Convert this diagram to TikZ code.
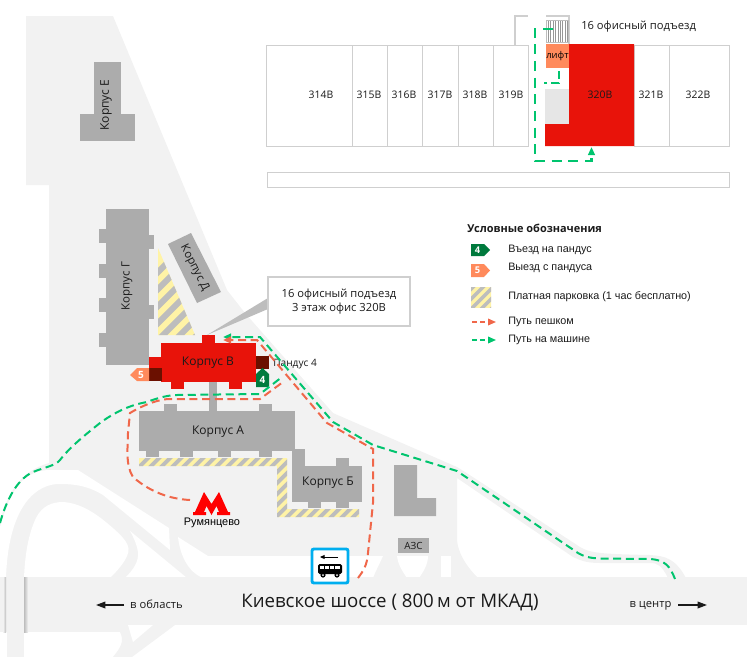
\documentclass[tikz,border=0pt]{standalone}
\usepackage{fontspec}
\setmainfont{Open Sans}
\newfontfamily\arialf{Liberation Sans}
\usetikzlibrary{arrows.meta}
\definecolor{ground}{HTML}{F2F2F2}
\definecolor{bldg}{HTML}{ACACAC}
\definecolor{redb}{HTML}{E8130A}
\definecolor{darkred}{HTML}{6B1000}
\definecolor{rampin}{HTML}{007A3D}
\definecolor{rampout}{HTML}{FF8A5C}
\definecolor{hatchy}{HTML}{FFF3A6}
\definecolor{hatchg}{HTML}{BDBDBD}
\definecolor{cellline}{HTML}{CFCFCF}
\definecolor{carc}{HTML}{00C46E}
\definecolor{walkc}{HTML}{F0674A}
\definecolor{busc}{HTML}{00AEEF}
\definecolor{txt}{HTML}{1A1A1A}
\tikzset{
 groundf/.style={fill=ground,draw=none},
 whitef/.style={fill=white,draw=none},
 bld/.style={fill=bldg,draw=none},
 redf/.style={fill=redb,draw=none},
 darkf/.style={fill=darkred,draw=none},
 lbl/.style={text=txt,font=\fontsize{9pt}{10pt}\selectfont,inner sep=0pt},
 small/.style={text=txt,font=\fontsize{7.8pt}{9pt}\selectfont,inner sep=0pt},
 leg/.style={text=txt,font=\arialf\fontsize{8.1pt}{10pt}\selectfont,inner sep=0pt,anchor=west},
 cell/.style={draw=cellline,line width=0.75pt,fill=white},
 car/.style={draw=carc,line width=1.5pt,dash pattern=on 6pt off 3.5pt},
 carthick/.style={draw=carc,line width=2pt,dash pattern=on 7.5pt off 5pt},
 walk/.style={draw=walkc,line width=1.5pt,dash pattern=on 6pt off 3.5pt},
 headc/.style={-{Triangle[length=6pt,width=5pt]}},
 dirarrow/.style={draw=txt,line width=1pt,-{Triangle[length=7pt,width=5pt]}},
 hatchline/.style={draw=hatchg},
}
\newcommand\hatchrun[4]{\foreach \hk in {0,...,#3}{\draw[hatchline,line width=#4*0.265pt] ({#1+\hk*#4-120},{#2+120}) -- ({#1+\hk*#4+120},{#2-120});}}
\begin{document}
\begin{tikzpicture}[x=0.75pt,y=-0.75pt]
\useasboundingbox (0,0) rectangle (747,657);
% ground
\fill[groundf] (26,16) -- (113,16) -- (227,290) -- (245,313) -- (333,413) -- (457,467)
  .. controls (462,470) and (470,475) .. (580,547)
  .. controls (590,553) and (600,554) .. (650,555)
  .. controls (665,556) and (675,558) .. (686,578)
  -- (668,578) .. controls (662,566) and (658,563) .. (650,563)
  -- (600,563) .. controls (585,563) and (580,560) .. (573,557)
  -- (457,478) -- (457,540) .. controls (458,552) and (465,565) .. (478,578)
  -- (0,578) -- (0,520) .. controls (8,495) and (18,472) .. (49,463) -- (49,185) -- (26,185) -- cycle;
% white cut-outs above the road
\fill[whitef] (0,527) .. controls (8,500) and (18,470) .. (50,470) -- (78,470) -- (169,528) -- (170,550)
  -- (103,495) .. controls (85,484) and (70,484) .. (57,484)
  .. controls (30,486) and (8,515) .. (6,578) -- (0,578) -- cycle;
\fill[whitef] (24,578) .. controls (25,555) and (28,535) .. (36,518)
  .. controls (42,506) and (52,502) .. (63,502) .. controls (80,503) and (95,513) .. (107,523)
  .. controls (125,538) and (132,546) .. (127,556) .. controls (124,563) and (118,570) .. (110,578) -- cycle;
\fill[whitef] (130,531) -- (187,578) -- (125,578) .. controls (133,570) and (139,562) .. (138,552) .. controls (137,545) and (134,538) .. (130,531) -- cycle;
\fill[whitef] (178,537) -- (208,556) -- (383,556) .. controls (380,563) and (376,570) .. (373,578)
  -- (203,578) .. controls (188,572) and (180,555) .. (178,537) -- cycle;
\fill[whitef] (397,556) -- (428,556) .. controls (428,565) and (423,572) .. (419,578) -- (407,578) .. controls (403,572) and (398,565) .. (397,556) -- cycle;
\fill[whitef] (441,556) -- (451,556) -- (451,578) -- (441,578) -- cycle;
% road
\fill[groundf] (0,577) rectangle (747,625);
\fill[groundf] (0,625) rectangle (120,632);
\fill[groundf] (120,625) -- (175,625) -- (132,657) -- (113,657) .. controls (120,648) and (125,642) .. (120,632) -- cycle;
\fill[whitef] (128,625) -- (153,625) -- (133,642) -- cycle;
\shade[left color=ground,right color=bldg!80] (3,577) rectangle (6,632);
\shade[left color=bldg!80,right color=ground] (24,577) rectangle (28,632);
\fill[groundf] (7,577) rectangle (24,657);
% buildings
\fill[bld] (94,62) rectangle (121,114);
\fill[bld] (80,114) rectangle (135,141);
\node[lbl,rotate=90] (korpE) at (106,105) {Корпус Е};
\fill[bld] (106,209) rectangle (149,365);
\foreach \yy in {229,264,298,333}{\fill[bld] (99,\yy) rectangle (106,\yy+14);}
\foreach \yy in {235,305}{\fill[bld] (149,\yy) rectangle (154,\yy+14);}
\node[lbl,rotate=90,font=\fontsize{8.6pt}{10pt}\selectfont] (korpG) at (127,286) {Корпус Г};
\fill[bld] (168,244) -- (191,233) -- (221,292) -- (197,303) -- cycle;
\node[lbl,rotate=-63,font=\fontsize{8.6pt}{10pt}\selectfont] (korpD) at (194.5,268) {Корпус Д};
% parking triangle
\begin{scope}
\clip (158,248) -- (195,335) -- (158,335) -- cycle;
\fill[hatchy] (150,240) rectangle (200,340);
\hatchrun{130}{300}{6}{17}
\end{scope}
% corpus A
\fill[bld] (209,380) rectangle (217,411);
\fill[bld] (139,411) rectangle (295,451);
\fill[bld] (164,404) rectangle (177,411);
\fill[bld] (259,404) rectangle (272,411);
\foreach \xx in {146,180,218,259}{\fill[bld] (\xx,451) rectangle (\xx+13,457);}
\node[lbl] (korpA) at (218,432) {Корпус А};
% parking A/B
\begin{scope}
\clip (139,458) -- (287,458) -- (287,509) -- (359,509) -- (359,517) -- (277,517) -- (277,466) -- (139,466) -- cycle;
\fill[hatchy] (130,450) rectangle (365,520);
\hatchrun{140}{466}{26}{11}
\end{scope}
% corpus B
\fill[bld] (292,449) rectangle (305,466);
\fill[bld] (292,466) rectangle (362,502);
\fill[bld] (336,458) rectangle (349,466);
\fill[bld] (308,502) rectangle (321,508);
\fill[bld] (336,502) rectangle (349,508);
\node[lbl] (korpB) at (328,483) {Корпус Б};
% L building, AZS
\fill[bld] (394,465) -- (417,465) -- (417,498) -- (436,498) -- (436,516) -- (394,516) -- cycle;
\node[fill=bldg,minimum width=23.25pt,minimum height=11.25pt,inner sep=0pt,text=txt,font=\fontsize{7.4pt}{8pt}\selectfont] (azs) at (413.5,545.5) {АЗС};
% callout pointer + corpus V
\fill[hatchg] (268,298) -- (268,309) -- (207,335) -- cycle;
\fill[redf] (161,343) rectangle (256,382);
\fill[redf] (149,357) rectangle (161,368);
\fill[redf] (202,335) rectangle (215,343);
\fill[redf] (171,382) rectangle (184,389);
\fill[redf] (229,382) rectangle (242,389);
\fill[darkf] (149,368) rectangle (162,381);
\fill[darkf] (256,356) rectangle (269,369);
\node[lbl] (korpV) at (208,363) {Корпус В};
\fill[rampin] (256,387) -- (256,374) -- (262.5,368) -- (269,374) -- (269,387) -- cycle;
\node[text=white,inner sep=0pt,font=\bfseries\fontsize{7.5pt}{9pt}\selectfont] (mk4) at (262.5,379.5) {4};
\fill[rampout] (149,368) -- (137,368) -- (130,375) -- (137,381) -- (149,381) -- cycle;
\node[text=white,inner sep=0pt,font=\bfseries\fontsize{7.5pt}{9pt}\selectfont] (mk5) at (141,375) {5};
\node[small,anchor=west,font=\fontsize{7.6pt}{9pt}\selectfont] (pand) at (273,364) {Пандус 4};
% callout
\node[draw=cellline,line width=1.4pt,fill=white,minimum width=106pt,minimum height=36.5pt,inner sep=0pt,align=center,text=txt,font=\fontsize{8.4pt}{10.6pt}\selectfont] (callout) at (339,301.5) {16 офисный подъезд\\3 этаж офис 320В};
% metro
\fill[red] (193,515) -- (193,512) -- (195,512) -- (204,492) -- (211.5,504) -- (219,492) -- (228,512) -- (230,512) -- (230,515) -- (217,515) -- (217,512) -- (219,512) -- (216.5,506) -- (211.5,515) -- (206.5,506) -- (204,512) -- (206,512) -- (206,515) -- cycle;
\node[text=black,inner sep=0pt,font=\arialf\fontsize{8.2pt}{10pt}\selectfont] (rum) at (212,523) {Румянцево};
% routes
\coordinate (carOneHead) at (223,337);
\coordinate (carOneEnd) at (675,579);
\coordinate (walkOneHead) at (223,340);
\coordinate (walkOneEnd) at (358,578);
\coordinate (carTwoStart) at (0,523);
\coordinate (carTwoEnd) at (282,377);
\coordinate (walkTwoStart) at (190,500);
\coordinate (walkTwoEnd) at (283,382);
\draw[car,headc] (carOneEnd) .. controls (670,566) and (665,560) .. (650,559) -- (600,558.5) .. controls (590,558) and (585,557) .. (578,553) -- (457,471) -- (373,445) -- (333,422) -- (260,337) -- (carOneHead);
\draw[walk,headc] (walkOneEnd) .. controls (364,570) and (367,565) .. (368,553) -- (373,503) -- (373,449) -- (327,423) -- (257,340) -- (walkOneHead);
\draw[car] (carTwoStart) .. controls (5,505) and (15,480) .. (33,472) .. controls (45,467) and (55,466) .. (60,460) .. controls (70,447) and (85,435) .. (100,423) .. controls (115,412) and (130,405) .. (147,402) .. controls (160,397) and (170,395) .. (177,395) -- (260,394) -- (carTwoEnd);
\draw[walk] (walkTwoStart) .. controls (170,499) and (150,492) .. (133,477) .. controls (125,465) and (128,445) .. (128,433) -- (130,413) .. controls (145,404) and (160,399) .. (170,399) -- (260,399) -- (walkTwoEnd);
% bus sign
\node[draw=busc,line width=2.2pt,fill=white,rounded corners=1.5pt,minimum width=27pt,minimum height=25.5pt,inner sep=0pt] (bussign) at (330,566) {};
\draw[draw=black,line width=0.7pt,-{Triangle[length=3.5pt,width=3pt]}] (338,557) -- (320,557);
\fill[black,rounded corners=1.2pt] (318,564) rectangle (342,574);
\fill[white] (320,566) rectangle (340,568.5);
\foreach \xx in {324,329,334}{\draw[black,line width=0.5pt] (\xx,566) -- (\xx,568.5);}
\foreach \xx in {323,337}{\fill[black] (\xx,575) circle (2.6); \fill[white] (\xx,575) circle (1);}
% road texts
\node[text=txt,inner sep=0pt,font=\fontsize{14pt}{16pt}\selectfont] (roadname) at (390,602) {Киевское шоссе ( 800\,м от МКАД)};
\node[small,font=\fontsize{8.4pt}{9pt}\selectfont] (toobl) at (156.5,604.5) {в область};
\node[small,font=\fontsize{8.4pt}{9pt}\selectfont] (tocen) at (650.5,605.5) {в центр};
\coordinate (oblA) at (124,605);
\coordinate (oblB) at (96,605);
\coordinate (cenA) at (678,605);
\coordinate (cenB) at (707,605);
\draw[dirarrow] (oblA) -- (oblB);
\draw[dirarrow] (cenA) -- (cenB);
% floor plan
\foreach \xa/\xb/\xc/\nm in {266/352/321/314В,352/387/369/315В,387/422/404/316В,422/458/440/317В,458/493/475/318В,493/528/511/319В,634/669/651/321В,669/729/698/322В}{
  \draw[cell] (\xa,45) rectangle (\xb,146);
  \node[small] at (\xc,95) {\nm};
}
\draw[cell] (267,172) rectangle (729,187);
\draw[cellline,line width=1.1pt] (515,45) -- (515,16) -- (528,16);
\draw[cellline,line width=1.1pt] (546,16) -- (569,16) -- (569,44);
\fill[redf] (569,44) -- (634,44) -- (634,146) -- (545,146) -- (545,124) -- (569,124) -- cycle;
\fill[ground!95!black] (545,89) rectangle (569,124);
\fill[rampout] (546,44) rectangle (569,68);
\node[inner sep=0pt,text=black,font=\fontsize{7pt}{9pt}\selectfont] (lift) at (557.5,56) {лифт};
\node[small] (r320) at (600,95) {320В};
\foreach \xx in {546,548.4,...,568}{\draw[hatchg!80!black,line width=0.6pt] (\xx,20) -- (\xx,42);}
\draw[hatchg,line width=0.6pt] (546,20) rectangle (568,42);
\node[small,anchor=west,font=\fontsize{8.4pt}{10pt}\selectfont] (entr) at (581,27) {16 офисный подъезд};
\coordinate (fpA) at (553,29);
\coordinate (fpB) at (591.5,147);
\coordinate (fpC) at (559,71);
\coordinate (fpD) at (544,83);
\draw[carthick,headc] (fpA) -- (535,29) -- (535,161) -- (591.5,161) -- (fpB);
\draw[carthick,dash pattern=on 6pt off 3pt] (fpC) -- (559,83) -- (fpD);
% legend
\node[anchor=west,inner sep=0pt,text=txt,font=\bfseries\fontsize{8.2pt}{10pt}\selectfont] (legt) at (467,228) {Условные обозначения};
\fill[rampin] (471,244) -- (484,244) -- (490,250) -- (484,256) -- (471,256) -- cycle;
\node[text=white,inner sep=0pt,font=\bfseries\fontsize{7pt}{9pt}\selectfont] (l4) at (477.5,250) {4};
\fill[rampout] (471,264) -- (484,264) -- (490,270.5) -- (484,277) -- (471,277) -- cycle;
\node[text=white,inner sep=0pt,font=\bfseries\fontsize{7pt}{9pt}\selectfont] (l5) at (477.5,270.5) {5};
\begin{scope}
\clip (471,287) rectangle (491,307);
\fill[hatchy] (470,286) rectangle (492,308);
\hatchrun{450}{300}{7}{10}
\end{scope}
\node[leg] (t1) at (508,250) {Въезд на пандус};
\node[leg] (t2) at (508,268) {Выезд с пандуса};
\node[leg] (t3) at (508,297) {Платная парковка (1 час бесплатно)};
\node[leg] (t4) at (508,322) {Путь пешком};
\node[leg] (t5) at (508,340) {Путь на машине};
\coordinate (lwA) at (472,322);
\coordinate (lwB) at (496,322);
\coordinate (lcA) at (472,340);
\coordinate (lcB) at (496,340);
\draw[walk,line width=1.1pt,dash pattern=on 3.5pt off 2.5pt,headc] (lwA) -- (lwB);
\draw[car,line width=1.1pt,dash pattern=on 3.5pt off 2.5pt,headc] (lcA) -- (lcB);
\end{tikzpicture}
\end{document}
